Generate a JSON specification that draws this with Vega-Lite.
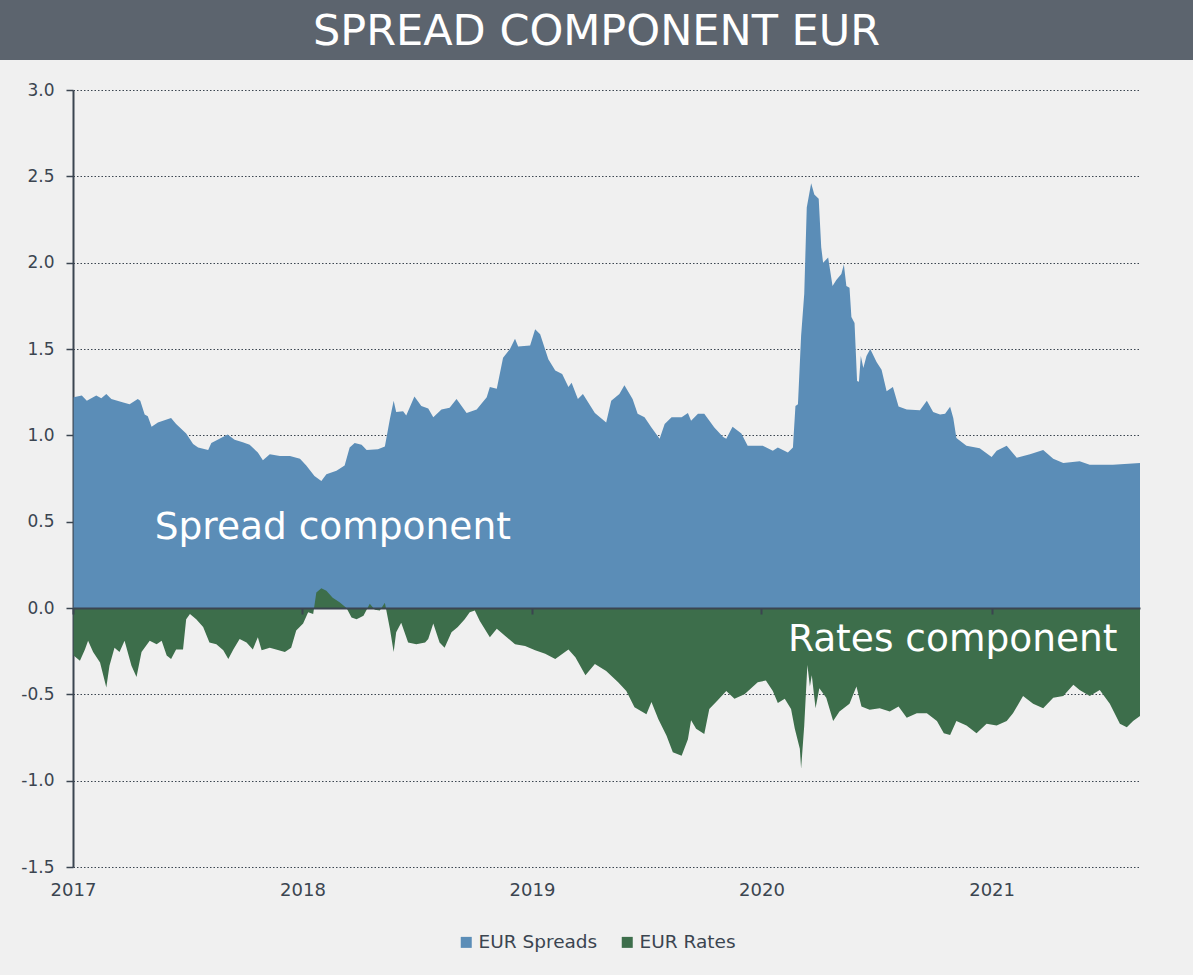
{
"$schema": "https://vega.github.io/schema/vega-lite/v6.json",
"background": "#f0f0f0",
"padding": {"left": 0, "top": 0, "right": 0, "bottom": 30},
"spacing": 21,
"config": {"view": {"stroke": null}, "font": "DejaVu Sans",
"axisY": {"title": null, "grid": true, "gridColor": "#3b4550", "gridDash": [1.5, 2], "gridWidth": 1.2, "domain": true, "domainColor": "#3b4550", "domainWidth": 2, "ticks": true, "tickSize": 7, "tickWidth": 1.5, "tickColor": "#3b4550", "labelFontSize": 17, "labelColor": "#3b4550", "labelFont": "DejaVu Sans", "labelPadding": 12, "minExtent": 0},
"legend": {"layout": {"bottom": {"anchor": "middle"}}}
},
"datasets": {
"rows": [
{"date":"2017-01-02","series":"EUR Spreads","value":1.22},
{"date":"2017-01-15","series":"EUR Spreads","value":1.23},
{"date":"2017-01-23","series":"EUR Spreads","value":1.20},
{"date":"2017-02-07","series":"EUR Spreads","value":1.23},
{"date":"2017-02-15","series":"EUR Spreads","value":1.215},
{"date":"2017-02-23","series":"EUR Spreads","value":1.24},
{"date":"2017-03-03","series":"EUR Spreads","value":1.21},
{"date":"2017-03-22","series":"EUR Spreads","value":1.19},
{"date":"2017-04-01","series":"EUR Spreads","value":1.18},
{"date":"2017-04-14","series":"EUR Spreads","value":1.21},
{"date":"2017-04-18","series":"EUR Spreads","value":1.20},
{"date":"2017-04-25","series":"EUR Spreads","value":1.12},
{"date":"2017-04-30","series":"EUR Spreads","value":1.11},
{"date":"2017-05-06","series":"EUR Spreads","value":1.05},
{"date":"2017-05-16","series":"EUR Spreads","value":1.075},
{"date":"2017-06-06","series":"EUR Spreads","value":1.10},
{"date":"2017-06-14","series":"EUR Spreads","value":1.065},
{"date":"2017-06-30","series":"EUR Spreads","value":1.01},
{"date":"2017-07-11","series":"EUR Spreads","value":0.95},
{"date":"2017-07-19","series":"EUR Spreads","value":0.93},
{"date":"2017-08-04","series":"EUR Spreads","value":0.915},
{"date":"2017-08-09","series":"EUR Spreads","value":0.955},
{"date":"2017-08-22","series":"EUR Spreads","value":0.98},
{"date":"2017-09-04","series":"EUR Spreads","value":1.005},
{"date":"2017-09-15","series":"EUR Spreads","value":0.975},
{"date":"2017-09-28","series":"EUR Spreads","value":0.96},
{"date":"2017-10-09","series":"EUR Spreads","value":0.945},
{"date":"2017-10-22","series":"EUR Spreads","value":0.90},
{"date":"2017-10-30","series":"EUR Spreads","value":0.855},
{"date":"2017-11-10","series":"EUR Spreads","value":0.89},
{"date":"2017-11-26","series":"EUR Spreads","value":0.88},
{"date":"2017-12-12","series":"EUR Spreads","value":0.88},
{"date":"2017-12-28","series":"EUR Spreads","value":0.865},
{"date":"2018-01-07","series":"EUR Spreads","value":0.825},
{"date":"2018-01-20","series":"EUR Spreads","value":0.765},
{"date":"2018-01-31","series":"EUR Spreads","value":0.735},
{"date":"2018-02-08","series":"EUR Spreads","value":0.775},
{"date":"2018-02-24","series":"EUR Spreads","value":0.795},
{"date":"2018-03-09","series":"EUR Spreads","value":0.825},
{"date":"2018-03-17","series":"EUR Spreads","value":0.93},
{"date":"2018-03-25","series":"EUR Spreads","value":0.955},
{"date":"2018-04-05","series":"EUR Spreads","value":0.945},
{"date":"2018-04-13","series":"EUR Spreads","value":0.915},
{"date":"2018-05-01","series":"EUR Spreads","value":0.92},
{"date":"2018-05-12","series":"EUR Spreads","value":0.935},
{"date":"2018-05-20","series":"EUR Spreads","value":1.095},
{"date":"2018-05-26","series":"EUR Spreads","value":1.20},
{"date":"2018-05-30","series":"EUR Spreads","value":1.135},
{"date":"2018-06-10","series":"EUR Spreads","value":1.14},
{"date":"2018-06-15","series":"EUR Spreads","value":1.115},
{"date":"2018-06-28","series":"EUR Spreads","value":1.225},
{"date":"2018-07-09","series":"EUR Spreads","value":1.17},
{"date":"2018-07-20","series":"EUR Spreads","value":1.155},
{"date":"2018-07-28","series":"EUR Spreads","value":1.105},
{"date":"2018-08-10","series":"EUR Spreads","value":1.15},
{"date":"2018-08-23","series":"EUR Spreads","value":1.16},
{"date":"2018-09-03","series":"EUR Spreads","value":1.21},
{"date":"2018-09-19","series":"EUR Spreads","value":1.13},
{"date":"2018-10-05","series":"EUR Spreads","value":1.15},
{"date":"2018-10-21","series":"EUR Spreads","value":1.22},
{"date":"2018-10-26","series":"EUR Spreads","value":1.28},
{"date":"2018-11-06","series":"EUR Spreads","value":1.27},
{"date":"2018-11-16","series":"EUR Spreads","value":1.45},
{"date":"2018-11-27","series":"EUR Spreads","value":1.50},
{"date":"2018-12-05","series":"EUR Spreads","value":1.56},
{"date":"2018-12-10","series":"EUR Spreads","value":1.515},
{"date":"2018-12-29","series":"EUR Spreads","value":1.52},
{"date":"2019-01-06","series":"EUR Spreads","value":1.615},
{"date":"2019-01-14","series":"EUR Spreads","value":1.585},
{"date":"2019-01-27","series":"EUR Spreads","value":1.44},
{"date":"2019-02-07","series":"EUR Spreads","value":1.375},
{"date":"2019-02-18","series":"EUR Spreads","value":1.355},
{"date":"2019-02-28","series":"EUR Spreads","value":1.28},
{"date":"2019-03-05","series":"EUR Spreads","value":1.305},
{"date":"2019-03-15","series":"EUR Spreads","value":1.21},
{"date":"2019-03-23","series":"EUR Spreads","value":1.24},
{"date":"2019-04-11","series":"EUR Spreads","value":1.13},
{"date":"2019-04-29","series":"EUR Spreads","value":1.075},
{"date":"2019-05-07","series":"EUR Spreads","value":1.20},
{"date":"2019-05-20","series":"EUR Spreads","value":1.24},
{"date":"2019-05-28","series":"EUR Spreads","value":1.29},
{"date":"2019-06-10","series":"EUR Spreads","value":1.21},
{"date":"2019-06-18","series":"EUR Spreads","value":1.125},
{"date":"2019-06-29","series":"EUR Spreads","value":1.105},
{"date":"2019-07-10","series":"EUR Spreads","value":1.045},
{"date":"2019-07-23","series":"EUR Spreads","value":0.98},
{"date":"2019-07-31","series":"EUR Spreads","value":1.065},
{"date":"2019-08-11","series":"EUR Spreads","value":1.105},
{"date":"2019-08-27","series":"EUR Spreads","value":1.105},
{"date":"2019-09-06","series":"EUR Spreads","value":1.13},
{"date":"2019-09-11","series":"EUR Spreads","value":1.085},
{"date":"2019-09-22","series":"EUR Spreads","value":1.125},
{"date":"2019-10-02","series":"EUR Spreads","value":1.125},
{"date":"2019-10-18","series":"EUR Spreads","value":1.045},
{"date":"2019-11-01","series":"EUR Spreads","value":0.99},
{"date":"2019-11-06","series":"EUR Spreads","value":0.98},
{"date":"2019-11-16","series":"EUR Spreads","value":1.05},
{"date":"2019-11-30","series":"EUR Spreads","value":1.01},
{"date":"2019-12-10","series":"EUR Spreads","value":0.94},
{"date":"2019-12-21","series":"EUR Spreads","value":0.94},
{"date":"2020-01-03","series":"EUR Spreads","value":0.94},
{"date":"2020-01-19","series":"EUR Spreads","value":0.91},
{"date":"2020-01-27","series":"EUR Spreads","value":0.93},
{"date":"2020-02-12","series":"EUR Spreads","value":0.90},
{"date":"2020-02-20","series":"EUR Spreads","value":0.93},
{"date":"2020-02-24","series":"EUR Spreads","value":1.17},
{"date":"2020-02-28","series":"EUR Spreads","value":1.18},
{"date":"2020-03-04","series":"EUR Spreads","value":1.575},
{"date":"2020-03-09","series":"EUR Spreads","value":1.82},
{"date":"2020-03-13","series":"EUR Spreads","value":2.32},
{"date":"2020-03-20","series":"EUR Spreads","value":2.46},
{"date":"2020-03-25","series":"EUR Spreads","value":2.395},
{"date":"2020-04-01","series":"EUR Spreads","value":2.37},
{"date":"2020-04-05","series":"EUR Spreads","value":2.09},
{"date":"2020-04-08","series":"EUR Spreads","value":2.00},
{"date":"2020-04-16","series":"EUR Spreads","value":2.03},
{"date":"2020-04-23","series":"EUR Spreads","value":1.865},
{"date":"2020-04-29","series":"EUR Spreads","value":1.90},
{"date":"2020-05-07","series":"EUR Spreads","value":1.935},
{"date":"2020-05-11","series":"EUR Spreads","value":1.99},
{"date":"2020-05-15","series":"EUR Spreads","value":1.865},
{"date":"2020-05-20","series":"EUR Spreads","value":1.855},
{"date":"2020-05-23","series":"EUR Spreads","value":1.685},
{"date":"2020-05-28","series":"EUR Spreads","value":1.65},
{"date":"2020-06-01","series":"EUR Spreads","value":1.315},
{"date":"2020-06-04","series":"EUR Spreads","value":1.31},
{"date":"2020-06-07","series":"EUR Spreads","value":1.46},
{"date":"2020-06-11","series":"EUR Spreads","value":1.39},
{"date":"2020-06-16","series":"EUR Spreads","value":1.46},
{"date":"2020-06-22","series":"EUR Spreads","value":1.50},
{"date":"2020-07-02","series":"EUR Spreads","value":1.425},
{"date":"2020-07-10","series":"EUR Spreads","value":1.38},
{"date":"2020-07-18","series":"EUR Spreads","value":1.255},
{"date":"2020-07-28","series":"EUR Spreads","value":1.28},
{"date":"2020-08-06","series":"EUR Spreads","value":1.167},
{"date":"2020-08-19","series":"EUR Spreads","value":1.15},
{"date":"2020-09-09","series":"EUR Spreads","value":1.145},
{"date":"2020-09-20","series":"EUR Spreads","value":1.20},
{"date":"2020-09-30","series":"EUR Spreads","value":1.135},
{"date":"2020-10-11","series":"EUR Spreads","value":1.12},
{"date":"2020-10-19","series":"EUR Spreads","value":1.125},
{"date":"2020-10-27","series":"EUR Spreads","value":1.165},
{"date":"2020-11-01","series":"EUR Spreads","value":1.10},
{"date":"2020-11-06","series":"EUR Spreads","value":0.985},
{"date":"2020-11-22","series":"EUR Spreads","value":0.94},
{"date":"2020-12-13","series":"EUR Spreads","value":0.925},
{"date":"2021-01-01","series":"EUR Spreads","value":0.875},
{"date":"2021-01-09","series":"EUR Spreads","value":0.91},
{"date":"2021-01-25","series":"EUR Spreads","value":0.94},
{"date":"2021-02-10","series":"EUR Spreads","value":0.87},
{"date":"2021-03-03","series":"EUR Spreads","value":0.89},
{"date":"2021-03-24","series":"EUR Spreads","value":0.915},
{"date":"2021-04-09","series":"EUR Spreads","value":0.865},
{"date":"2021-04-25","series":"EUR Spreads","value":0.84},
{"date":"2021-05-21","series":"EUR Spreads","value":0.85},
{"date":"2021-06-06","series":"EUR Spreads","value":0.83},
{"date":"2021-07-13","series":"EUR Spreads","value":0.83},
{"date":"2021-08-25","series":"EUR Spreads","value":0.84},
{"date":"2017-01-02","series":"EUR Rates","value":-0.275},
{"date":"2017-01-12","series":"EUR Rates","value":-0.305},
{"date":"2017-01-20","series":"EUR Rates","value":-0.24},
{"date":"2017-01-25","series":"EUR Rates","value":-0.19},
{"date":"2017-02-02","series":"EUR Rates","value":-0.255},
{"date":"2017-02-13","series":"EUR Rates","value":-0.315},
{"date":"2017-02-23","series":"EUR Rates","value":-0.46},
{"date":"2017-02-28","series":"EUR Rates","value":-0.335},
{"date":"2017-03-08","series":"EUR Rates","value":-0.23},
{"date":"2017-03-16","series":"EUR Rates","value":-0.255},
{"date":"2017-03-24","series":"EUR Rates","value":-0.19},
{"date":"2017-04-04","series":"EUR Rates","value":-0.335},
{"date":"2017-04-12","series":"EUR Rates","value":-0.40},
{"date":"2017-04-20","series":"EUR Rates","value":-0.255},
{"date":"2017-05-03","series":"EUR Rates","value":-0.19},
{"date":"2017-05-14","series":"EUR Rates","value":-0.21},
{"date":"2017-05-22","series":"EUR Rates","value":-0.19},
{"date":"2017-05-30","series":"EUR Rates","value":-0.275},
{"date":"2017-06-06","series":"EUR Rates","value":-0.295},
{"date":"2017-06-14","series":"EUR Rates","value":-0.24},
{"date":"2017-06-25","series":"EUR Rates","value":-0.24},
{"date":"2017-06-30","series":"EUR Rates","value":-0.065},
{"date":"2017-07-06","series":"EUR Rates","value":-0.035},
{"date":"2017-07-16","series":"EUR Rates","value":-0.065},
{"date":"2017-07-27","series":"EUR Rates","value":-0.11},
{"date":"2017-08-06","series":"EUR Rates","value":-0.20},
{"date":"2017-08-17","series":"EUR Rates","value":-0.21},
{"date":"2017-08-28","series":"EUR Rates","value":-0.245},
{"date":"2017-09-05","series":"EUR Rates","value":-0.295},
{"date":"2017-09-13","series":"EUR Rates","value":-0.24},
{"date":"2017-09-23","series":"EUR Rates","value":-0.18},
{"date":"2017-10-04","series":"EUR Rates","value":-0.20},
{"date":"2017-10-14","series":"EUR Rates","value":-0.24},
{"date":"2017-10-22","series":"EUR Rates","value":-0.17},
{"date":"2017-10-28","series":"EUR Rates","value":-0.245},
{"date":"2017-11-10","series":"EUR Rates","value":-0.23},
{"date":"2017-11-20","series":"EUR Rates","value":-0.24},
{"date":"2017-12-04","series":"EUR Rates","value":-0.255},
{"date":"2017-12-14","series":"EUR Rates","value":-0.23},
{"date":"2017-12-22","series":"EUR Rates","value":-0.13},
{"date":"2018-01-02","series":"EUR Rates","value":-0.09},
{"date":"2018-01-10","series":"EUR Rates","value":-0.025},
{"date":"2018-01-18","series":"EUR Rates","value":-0.035},
{"date":"2018-01-23","series":"EUR Rates","value":0.09},
{"date":"2018-01-31","series":"EUR Rates","value":0.115},
{"date":"2018-02-08","series":"EUR Rates","value":0.10},
{"date":"2018-02-18","series":"EUR Rates","value":0.06},
{"date":"2018-03-01","series":"EUR Rates","value":0.033},
{"date":"2018-03-12","series":"EUR Rates","value":0.0},
{"date":"2018-03-20","series":"EUR Rates","value":-0.055},
{"date":"2018-03-28","series":"EUR Rates","value":-0.065},
{"date":"2018-04-08","series":"EUR Rates","value":-0.045},
{"date":"2018-04-18","series":"EUR Rates","value":0.025},
{"date":"2018-04-26","series":"EUR Rates","value":-0.01},
{"date":"2018-05-04","series":"EUR Rates","value":-0.015},
{"date":"2018-05-12","series":"EUR Rates","value":0.03},
{"date":"2018-05-20","series":"EUR Rates","value":-0.12},
{"date":"2018-05-26","series":"EUR Rates","value":-0.255},
{"date":"2018-05-30","series":"EUR Rates","value":-0.14},
{"date":"2018-06-07","series":"EUR Rates","value":-0.085},
{"date":"2018-06-18","series":"EUR Rates","value":-0.20},
{"date":"2018-07-01","series":"EUR Rates","value":-0.21},
{"date":"2018-07-15","series":"EUR Rates","value":-0.20},
{"date":"2018-07-20","series":"EUR Rates","value":-0.18},
{"date":"2018-07-28","series":"EUR Rates","value":-0.09},
{"date":"2018-08-07","series":"EUR Rates","value":-0.20},
{"date":"2018-08-15","series":"EUR Rates","value":-0.23},
{"date":"2018-08-26","series":"EUR Rates","value":-0.14},
{"date":"2018-09-05","series":"EUR Rates","value":-0.11},
{"date":"2018-09-16","series":"EUR Rates","value":-0.065},
{"date":"2018-09-24","series":"EUR Rates","value":-0.025},
{"date":"2018-10-02","series":"EUR Rates","value":-0.015},
{"date":"2018-10-10","series":"EUR Rates","value":-0.075},
{"date":"2018-10-26","series":"EUR Rates","value":-0.17},
{"date":"2018-11-06","series":"EUR Rates","value":-0.12},
{"date":"2018-11-19","series":"EUR Rates","value":-0.16},
{"date":"2018-12-05","series":"EUR Rates","value":-0.21},
{"date":"2018-12-21","series":"EUR Rates","value":-0.22},
{"date":"2019-01-06","series":"EUR Rates","value":-0.245},
{"date":"2019-01-22","series":"EUR Rates","value":-0.265},
{"date":"2019-02-07","series":"EUR Rates","value":-0.295},
{"date":"2019-02-28","series":"EUR Rates","value":-0.24},
{"date":"2019-03-11","series":"EUR Rates","value":-0.285},
{"date":"2019-03-27","series":"EUR Rates","value":-0.39},
{"date":"2019-04-11","series":"EUR Rates","value":-0.325},
{"date":"2019-04-29","series":"EUR Rates","value":-0.365},
{"date":"2019-05-18","series":"EUR Rates","value":-0.43},
{"date":"2019-05-31","series":"EUR Rates","value":-0.48},
{"date":"2019-06-13","series":"EUR Rates","value":-0.575},
{"date":"2019-07-02","series":"EUR Rates","value":-0.615},
{"date":"2019-07-10","series":"EUR Rates","value":-0.545},
{"date":"2019-07-21","series":"EUR Rates","value":-0.645},
{"date":"2019-08-03","series":"EUR Rates","value":-0.74},
{"date":"2019-08-13","series":"EUR Rates","value":-0.835},
{"date":"2019-08-27","series":"EUR Rates","value":-0.855},
{"date":"2019-09-06","series":"EUR Rates","value":-0.76},
{"date":"2019-09-11","series":"EUR Rates","value":-0.65},
{"date":"2019-09-19","series":"EUR Rates","value":-0.70},
{"date":"2019-10-02","series":"EUR Rates","value":-0.73},
{"date":"2019-10-10","series":"EUR Rates","value":-0.585},
{"date":"2019-10-23","series":"EUR Rates","value":-0.535},
{"date":"2019-11-06","series":"EUR Rates","value":-0.48},
{"date":"2019-11-19","series":"EUR Rates","value":-0.525},
{"date":"2019-12-05","series":"EUR Rates","value":-0.50},
{"date":"2019-12-26","series":"EUR Rates","value":-0.43},
{"date":"2020-01-08","series":"EUR Rates","value":-0.42},
{"date":"2020-01-19","series":"EUR Rates","value":-0.48},
{"date":"2020-01-27","series":"EUR Rates","value":-0.55},
{"date":"2020-02-07","series":"EUR Rates","value":-0.525},
{"date":"2020-02-17","series":"EUR Rates","value":-0.585},
{"date":"2020-02-23","series":"EUR Rates","value":-0.70},
{"date":"2020-03-02","series":"EUR Rates","value":-0.815},
{"date":"2020-03-04","series":"EUR Rates","value":-0.93},
{"date":"2020-03-09","series":"EUR Rates","value":-0.68},
{"date":"2020-03-14","series":"EUR Rates","value":-0.33},
{"date":"2020-03-18","series":"EUR Rates","value":-0.455},
{"date":"2020-03-21","series":"EUR Rates","value":-0.39},
{"date":"2020-03-27","series":"EUR Rates","value":-0.58},
{"date":"2020-04-02","series":"EUR Rates","value":-0.465},
{"date":"2020-04-13","series":"EUR Rates","value":-0.52},
{"date":"2020-04-24","series":"EUR Rates","value":-0.655},
{"date":"2020-05-04","series":"EUR Rates","value":-0.60},
{"date":"2020-05-20","series":"EUR Rates","value":-0.555},
{"date":"2020-05-31","series":"EUR Rates","value":-0.455},
{"date":"2020-06-08","series":"EUR Rates","value":-0.57},
{"date":"2020-06-21","series":"EUR Rates","value":-0.59},
{"date":"2020-07-07","series":"EUR Rates","value":-0.58},
{"date":"2020-07-23","series":"EUR Rates","value":-0.60},
{"date":"2020-08-06","series":"EUR Rates","value":-0.57},
{"date":"2020-08-19","series":"EUR Rates","value":-0.635},
{"date":"2020-09-04","series":"EUR Rates","value":-0.61},
{"date":"2020-09-20","series":"EUR Rates","value":-0.61},
{"date":"2020-10-06","series":"EUR Rates","value":-0.655},
{"date":"2020-10-17","series":"EUR Rates","value":-0.725},
{"date":"2020-10-27","series":"EUR Rates","value":-0.735},
{"date":"2020-11-06","series":"EUR Rates","value":-0.655},
{"date":"2020-11-22","series":"EUR Rates","value":-0.68},
{"date":"2020-12-08","series":"EUR Rates","value":-0.725},
{"date":"2020-12-24","series":"EUR Rates","value":-0.67},
{"date":"2021-01-09","series":"EUR Rates","value":-0.68},
{"date":"2021-01-25","series":"EUR Rates","value":-0.655},
{"date":"2021-02-04","series":"EUR Rates","value":-0.61},
{"date":"2021-02-20","series":"EUR Rates","value":-0.51},
{"date":"2021-03-08","series":"EUR Rates","value":-0.555},
{"date":"2021-03-24","series":"EUR Rates","value":-0.58},
{"date":"2021-04-09","series":"EUR Rates","value":-0.52},
{"date":"2021-04-25","series":"EUR Rates","value":-0.51},
{"date":"2021-05-11","series":"EUR Rates","value":-0.445},
{"date":"2021-05-21","series":"EUR Rates","value":-0.475},
{"date":"2021-06-06","series":"EUR Rates","value":-0.51},
{"date":"2021-06-22","series":"EUR Rates","value":-0.475},
{"date":"2021-07-08","series":"EUR Rates","value":-0.555},
{"date":"2021-07-24","series":"EUR Rates","value":-0.67},
{"date":"2021-08-04","series":"EUR Rates","value":-0.69},
{"date":"2021-08-14","series":"EUR Rates","value":-0.655},
{"date":"2021-08-25","series":"EUR Rates","value":-0.625}
]
},
"vconcat": [
{
"width": 1193,
"height": 60,
"view": {"fill": "#5c646e", "stroke": null},
"data": {"values": [{"title": "SPREAD COMPONENT EUR"}]},
"mark": {"type": "text", "font": "DejaVu Sans", "fontSize": 43, "color": "#ffffff", "align": "center", "baseline": "middle", "dy": 2},
"encoding": {"text": {"field": "title"}}
},
{
"width": 1193,
"height": 777,
"data": {"name": "rows"},
"resolve": {"axis": {"x": "independent"}},
"layer": [
{
"transform": [{"filter": "datum.series === 'EUR Spreads'"}],
"mark": {"type": "area", "interpolate": "linear"},
"encoding": {
"x": {"field": "date", "type": "temporal",
"scale": {"domain": [{"year": 2017, "month": 1, "date": 1}, {"year": 2021, "month": 8, "date": 25}], "range": [73, 1140], "nice": false},
"axis": {"orient": "bottom", "title": null, "domain": false, "ticks": false, "grid": false, "format": "%Y", "tickCount": {"interval": "year", "step": 1}, "labelFontSize": 18, "labelColor": "#3b4550", "labelFont": "DejaVu Sans", "labelPadding": 14, "labelFlush": false, "labelOverlap": false}},
"y": {"field": "value", "type": "quantitative", "stack": null,
"scale": {"domain": [-1.5, 3], "nice": false, "zero": false},
"axis": {"title": null, "offset": -73, "values": [-1.5, -1, -0.5, 0, 0.5, 1, 1.5, 2, 2.5, 3], "format": ".1f", "labelExpr": "replace(datum.label, '\u2212', '-')"}},
"color": {"field": "series", "type": "nominal",
"scale": {"domain": ["EUR Spreads", "EUR Rates"], "range": ["#5b8db7", "#3d6e4b"]},
"legend": {"orient": "bottom", "direction": "horizontal", "title": null, "symbolType": "square", "symbolSize": 121, "symbolStrokeWidth": 0, "labelFontSize": 18.5, "labelColor": "#3b4550", "labelFont": "DejaVu Sans", "labelOffset": 3, "columnPadding": 20, "offset": 34}}
}
},
{
"transform": [{"filter": "datum.series === 'EUR Rates'"}],
"mark": {"type": "area", "interpolate": "linear"},
"encoding": {
"x": {"field": "date", "type": "temporal",
"axis": {"orient": "bottom", "offset": -259, "title": null, "domain": true, "domainColor": "#3b4550", "domainWidth": 2, "ticks": true, "tickSize": 6, "tickWidth": 2, "tickColor": "#3b4550", "labels": false, "grid": false, "tickCount": {"interval": "year", "step": 1}, "zindex": 1}},
"y": {"field": "value", "type": "quantitative", "stack": null, "axis": {"title": null}},
"color": {"field": "series", "type": "nominal"}
}
},
{
"data": {"values": [{"label": "Spread component"}]},
"mark": {"type": "text", "font": "DejaVu Sans", "fontSize": 37.5, "color": "#ffffff", "align": "left", "baseline": "alphabetic"},
"encoding": {
"x": {"datum": {"year": 2017, "month": 5, "date": 11}, "type": "temporal", "axis": null},
"y": {"datum": 0.40, "type": "quantitative", "axis": {"title": null}},
"text": {"field": "label"}
}
},
{
"data": {"values": [{"label": "Rates component"}]},
"mark": {"type": "text", "font": "DejaVu Sans", "fontSize": 37.5, "color": "#ffffff", "align": "left", "baseline": "alphabetic"},
"encoding": {
"x": {"datum": {"year": 2020, "month": 2, "date": 12}, "type": "temporal", "axis": null},
"y": {"datum": -0.25, "type": "quantitative", "axis": {"title": null}},
"text": {"field": "label"}
}
}
]
}
]
}
